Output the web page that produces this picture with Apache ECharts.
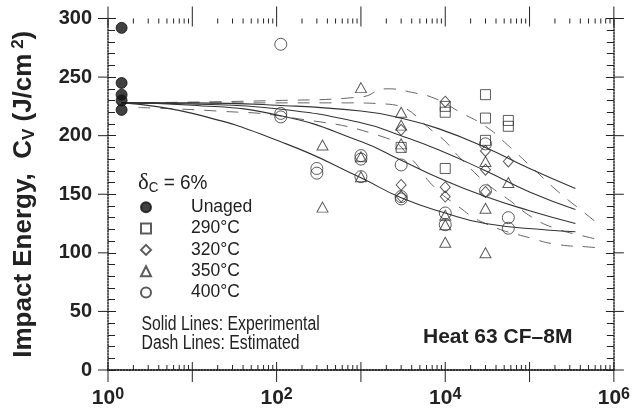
<!DOCTYPE html>
<html>
<head>
<meta charset="utf-8">
<script src="https://cdn.jsdelivr.net/npm/echarts@6/dist/echarts.min.js"></script>
<style>
  html, body { margin: 0; padding: 0; background: #fff; }
  #chart { width: 633px; height: 418px; }
</style>
</head>
<body>
<div id="chart"></div>
<script>
// aging time (h) vs Charpy impact energy (J/cm2), heat 63 CF-8M
const unaged = [[1.45, 292], [1.45, 245], [1.45, 235], [1.45, 230], [1.45, 222]];
const pts290 = [[3000, 190], [10000, 225], [10000, 220], [10000, 172], [30000, 235],
  [30000, 215], [30000, 196], [56000, 213], [56000, 208]];
const pts320 = [[3000, 205], [3000, 158], [3000, 148], [10000, 229], [10000, 156],
  [10000, 148], [30000, 187], [30000, 171], [30000, 152], [56000, 178]];
const pts350 = [[1000, 241], [350, 192], [350, 139], [1000, 182], [1000, 165],
  [3000, 220], [3000, 209], [3000, 193], [10000, 132], [10000, 124], [10000, 109],
  [30000, 178], [30000, 138], [30000, 100], [56000, 160]];
const pts400 = [[112, 278], [112, 219], [112, 216], [300, 172], [300, 168],
  [1000, 183], [1000, 180], [1000, 165], [3000, 175], [3000, 148], [3000, 146],
  [10000, 134], [10000, 124], [30000, 193], [30000, 153], [56000, 130], [56000, 121]];

// curves
const exp290 = [[1.45, 228], [10, 228], [100, 226], [1000, 221], [3000, 215], [8300, 206],
  [30000, 190], [100000, 172], [350000, 155]];
const exp320 = [[1.45, 228], [10, 227], [100, 223], [1000, 211], [3000, 200], [8300, 188],
  [30000, 170], [100000, 152], [350000, 137]];
const exp350 = [[1.45, 228], [10, 226], [112, 217], [1000, 195], [3000, 179], [8300, 164],
  [30000, 148], [100000, 136], [350000, 125]];
const exp400 = [[1.45, 228], [10, 219], [130, 193], [1000, 164], [3000, 147], [10000, 134],
  [30000, 125], [160000, 119.5], [350000, 118]];
const est290 = [[1.45, 228], [100, 230], [1000, 233], [2000, 240], [4000, 237], [8000, 231],
  [15000, 220], [30000, 208], [55000, 192], [110000, 172], [220000, 152], [450000, 134],
  [700000, 123]];
const est320 = [[1.45, 228], [20, 228], [100, 228], [600, 228], [2000, 227], [8000, 201],
  [15000, 181], [30000, 160], [55000, 146], [115000, 129], [220000, 120], [400000, 115],
  [600000, 112]];
const est400 = [[2.3, 224], [20, 221], [130, 216], [2000, 198], [4000, 180], [7000, 158],
  [14000, 140], [30000, 125], [110000, 112], [220000, 107], [500000, 105], [700000, 104]];

const yTicks = [0, 50, 100, 150, 200, 250, 300];

const ink = '#222';
const sans = '"Liberation Sans", Arial, sans-serif';

const chart = echarts.init(document.getElementById('chart'));

function curve(data, dashed) {
  return {
    type: 'line',
    data: data,
    smooth: true,
    symbol: 'none',
    silent: true,
    z: 1,
    lineStyle: dashed
      ? { color: '#666', width: 1, type: [12, 10] }
      : { color: '#333', width: 1.1 }
  };
}

function points(name, data, symbol, size, filled) {
  return {
    name: name,
    type: 'scatter',
    data: data,
    symbol: symbol,
    symbolSize: size,
    z: 3,
    itemStyle: filled
      ? { color: '#111', borderColor: '#111', borderWidth: 1 }
      : { color: 'rgba(255,255,255,0)', borderColor: '#333', borderWidth: 1 }
  };
}

const xAxisBase = {
  type: 'log',
  logBase: 10,
  min: 1,
  max: 1e6,
  splitNumber: 6,
  splitLine: { show: false },
  axisLine: { lineStyle: { color: ink, width: 1.5, type: 'dotted' } },
  axisTick: { show: false }
};

const yAxisBase = {
  type: 'value',
  min: 0,
  max: 300,
  interval: 50,
  splitLine: { show: false },
  axisLine: { show: true, lineStyle: { color: ink, width: 1.5, type: 'dotted' } },
  axisTick: { show: true, inside: true, length: 8, lineStyle: { color: ink } },
  minorTick: { show: true, splitNumber: 5, length: 7, lineStyle: { color: ink } }
};

chart.setOption({
  animation: false,
  backgroundColor: '#fff',
  grid: { left: 108, right: 16.5, top: 18.5, bottom: 48 },
  xAxis: [
    Object.assign({}, xAxisBase, {
      position: 'bottom',
      axisLabel: {
        margin: 17,
        color: ink,
        formatter: (v) => {
          const e = Math.round(Math.log10(v));
          return e % 2 === 0 ? '{b|10}{s|' + e + '}' : '';
        },
        rich: {
          b: { fontSize: 21, fontWeight: 'bold', fontFamily: sans, color: ink },
          s: { fontSize: 16, fontWeight: 'bold', fontFamily: sans, color: ink, padding: [0, 0, 6, 0] }
        }
      }
    }),
    Object.assign({}, xAxisBase, { position: 'top', axisLabel: { show: false } })
  ],
  yAxis: [
    Object.assign({}, yAxisBase, {
      position: 'left',
      axisLabel: {
        margin: 16,
        fontSize: 20,
        fontWeight: 'bold',
        fontFamily: sans,
        color: ink,
        formatter: (v) => (yTicks.includes(v) ? String(v) : '')
      },
      name: '{m|Impact Energy,  C}{s|V}{m| (J/cm}{p| 2}{m|)}',
      nameLocation: 'middle',
      nameRotate: 90,
      nameGap: 70,
      nameTextStyle: {
        rich: {
          m: { fontSize: 26, fontWeight: 'bold', fontFamily: sans, color: ink },
          s: { fontSize: 17, fontWeight: 'bold', fontFamily: sans, color: ink, padding: [12, 0, 0, 0] },
          p: { fontSize: 17, fontWeight: 'bold', fontFamily: sans, color: ink, padding: [0, 0, 10, 0] }
        }
      }
    }),
    Object.assign({}, yAxisBase, { position: 'right', axisLabel: { show: false } })
  ],
  legend: {
    data: ['Unaged', '290°C', '320°C', '350°C', '400°C'],
    orient: 'vertical',
    left: 140,
    top: 197.3,
    padding: 0,
    itemWidth: 10,
    itemHeight: 10,
    itemGap: 1.3,
    selectedMode: false,
    textStyle: {
      fontSize: 17.5,
      lineHeight: 20,
      fontFamily: sans,
      color: ink,
      padding: [0, 0, 0, 35]
    }
  },
  series: [
    curve(est290, true),
    curve(est320, true),
    curve(est400, true),
    curve(exp290, false),
    curve(exp320, false),
    curve(exp350, false),
    curve(exp400, false),
    points('Unaged', unaged, 'circle', 11, true),
    points('290°C', pts290, 'rect', 10, false),
    points('320°C', pts320, 'diamond', [10, 11], false),
    points('350°C', pts350, 'triangle', [11, 10], false),
    points('400°C', pts400, 'circle', 12, false)
  ]
});

// log minor ticks, crossing major ticks and notes
function decorate() {
  const els = [];
  const px = (v) => chart.convertToPixel({ xAxisIndex: 0 }, v);
  const py = (v) => chart.convertToPixel({ yAxisIndex: 0 }, v);
  const y0 = py(0), y1 = py(300), xL = px(1), xR = px(1e6);
  const seg = (x1, y1_, x2, y2) => ({
    type: 'line', silent: true, z: 5,
    shape: { x1: x1, y1: y1_, x2: x2, y2: y2 },
    style: { stroke: ink, lineWidth: 1 }
  });
  for (let d = 0; d <= 6; d++) {
    const x = px(Math.pow(10, d));
    els.push(seg(x, y0 - 8, x, y0 + 12));
    els.push(seg(x, y1 - 12, x, y1 + 8));
    if (d === 6) break;
    for (let k = 2; k <= 9; k++) {
      const xm = px(k * Math.pow(10, d));
      els.push(seg(xm, y0, xm, y0 - 5));
      els.push(seg(xm, y1, xm, y1 + 5));
    }
  }
  yTicks.forEach((v) => {
    els.push(seg(xL - 10, py(v), xL, py(v)));
    els.push(seg(xR, py(v), xR + 10, py(v)));
  });
  const note = (x, y, text, size, sx, weight) => ({
    type: 'text', silent: true, z: 6, x: x, y: y, scaleX: sx,
    style: { x: 0, y: 0, verticalAlign: 'middle', text: text,
      fontSize: size, fontWeight: weight || 'normal', fontFamily: sans, fill: ink }
  });
  els.push({
    type: 'text', silent: true, z: 6, x: 138, y: 183, scaleX: 0.95,
    style: {
      x: 0, y: 0, verticalAlign: 'middle',
      text: '{d|δ}{c|C}{t| = 6%}',
      rich: {
        d: { fontSize: 24, fontFamily: '"Liberation Serif", serif', fill: ink },
        c: { fontSize: 14, fontFamily: sans, fill: ink, padding: [10, 0, 0, 0] },
        t: { fontSize: 20, fontFamily: sans, fill: ink }
      }
    }
  });
  els.push(note(141.5, 325, 'Solid Lines: Experimental', 19.5, 0.81));
  els.push(note(141.5, 343.5, 'Dash Lines: Estimated', 19.5, 0.81));
  els.push(note(423, 337, 'Heat 63 CF–8M', 21, 1, 'bold'));
  chart.setOption({ graphic: els });
}
decorate();
</script>
</body>
</html>
